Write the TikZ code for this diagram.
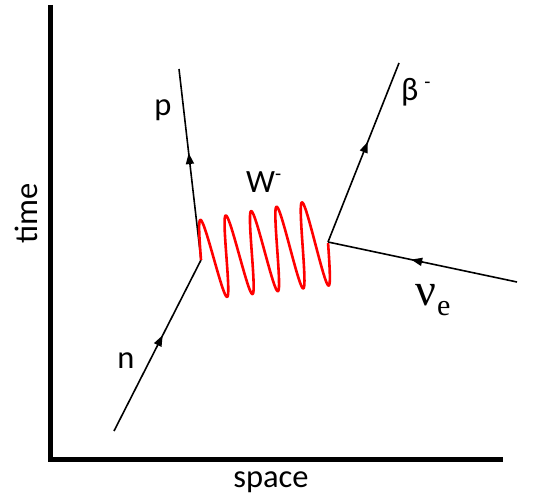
\documentclass[tikz,border=0pt]{standalone}
\usepackage{fontspec}
\setmainfont{Carlito}
\newfontfamily\serifgreek{Liberation Serif}
\usetikzlibrary{arrows.meta,decorations.markings}
\begin{document}
\begin{tikzpicture}[x=1pt,y=-1pt,
  axis/.style={line width=4.5pt},
  fermion/.style={line width=1.6pt, postaction={decorate},
    decoration={markings, mark=at position 0.56 with {\arrow{Triangle[length=11pt,width=8pt]}}}},
  boson/.style={draw=red, line width=2.6pt},
  lbl/.style={font=\fontsize{32.5}{38}\selectfont, inner sep=0pt, anchor=base}]
\useasboundingbox (0,0) rectangle (540,500);
% axes
\coordinate (top) at (50.5,5);
\coordinate (origin) at (50.5,459.5);
\coordinate (right) at (503,459.5);
\draw[axis] (top) -- (50.5,461.75) ;
\draw[axis] (48.25,459.5) -- (right);
\node[lbl, rotate=90] (time) at (37,213) {time};
\node[lbl] (space) at (271,487) {space};
% vertices and ends
\coordinate (nstart) at (114,431);
\coordinate (v1) at (201,260);
\coordinate (pend) at (179,69);
\coordinate (v2) at (328,242);
\coordinate (bend) at (399,63);
\coordinate (nustart) at (517,282);
% fermion lines
\draw[fermion] (nstart) -- (v1);
\draw[fermion] (v1) -- (pend);
\draw[fermion] (v2) -- (bend);
\draw[fermion] (nustart) -- (v2);
% W boson
\draw[boson, line join=round] plot[domain=0:5, samples=300, smooth]
  ({201 + 25.4*\x - 7*sin(360*\x)}, {260 - 3.6*\x - 39*(1+0.02*\x)*sin(360*\x)});
% labels
\node[lbl] (p) at (163,116) {p};
\node[lbl] (n) at (126,368) {n};
\node[lbl, anchor=base west] (W) at (246,192) {W\raisebox{12pt}{\fontsize{20}{20}\selectfont -}};
\node[lbl, anchor=base west] (beta) at (401,100) {β\hspace{6pt}\raisebox{12pt}{\fontsize{20}{20}\selectfont -}};
\node[inner sep=0pt, anchor=base west] (nu) at (415,305) {\serifgreek\fontsize{46}{50}\selectfont ν\hspace{1pt}\raisebox{-10pt}{\fontsize{30}{30}\selectfont e}};
\end{tikzpicture}
\end{document}
